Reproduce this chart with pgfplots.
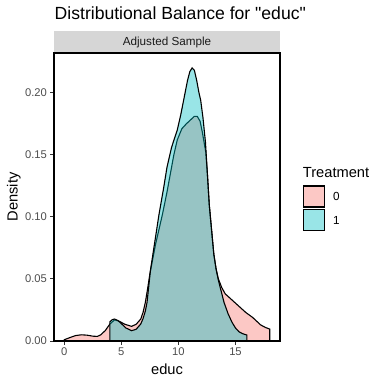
\documentclass[border=0pt]{standalone}
\usepackage{pgfplots}
\pgfplotsset{compat=1.18}
\usepackage{pgfplotstable}
\usepackage{fontspec}
\setmainfont{Liberation Sans}
\newfontfamily\rawfont{Liberation Sans}
\definecolor{pinkc}{HTML}{F8766D}
\definecolor{cyanc}{HTML}{00BFC4}
\definecolor{gthirty}{HTML}{4D4D4D}
\definecolor{gtwenty}{HTML}{333333}
\definecolor{gten}{HTML}{1A1A1A}
\definecolor{stripc}{HTML}{D6D6D6}

\pgfplotstableread{
x y
0.0 0.0
0.0 0.0010
0.5 0.0028
1.0 0.0044
1.5 0.0050
2.0 0.0047
2.5 0.0039
2.9 0.0037
3.2 0.0050
3.6 0.0085
4.0 0.0137
4.4 0.0170
4.8 0.0160
5.3 0.0135
5.9 0.0118
6.3 0.0135
6.7 0.0177
6.9 0.0230
7.1 0.0310
7.3 0.0420
7.5 0.0540
7.75 0.0660
8.0 0.0780
8.3 0.0900
8.6 0.1020
9.0 0.1200
9.3 0.1350
9.6 0.1500
9.9 0.1620
10.3 0.1710
10.7 0.1750
11.05 0.1780
11.4 0.1810
11.65 0.1810
11.9 0.1770
12.1 0.1680
12.4 0.1520
12.55 0.1330
12.7 0.1100
12.9 0.0900
13.1 0.0700
13.3 0.0580
13.5 0.0500
13.8 0.0430
14.1 0.0380
14.7 0.0330
15.3 0.0280
15.9 0.0230
16.5 0.0190
17.2 0.0130
17.6 0.0110
18.0 0.0096
18.0 0.0
}\ctrl

\pgfplotstableread{
x y
4.0 0.0
4.0 0.0155
4.2 0.0172
4.4 0.0177
4.7 0.0165
5.0 0.0140
5.4 0.0105
5.9 0.0083
6.3 0.0095
6.7 0.0137
6.9 0.0180
7.1 0.0240
7.25 0.0310
7.4 0.0440
7.55 0.0570
7.7 0.0660
8.0 0.0840
8.3 0.1020
8.7 0.1230
9.0 0.1400
9.4 0.1560
9.9 0.1700
10.2 0.1820
10.5 0.1960
10.8 0.2100
11.0 0.2170
11.2 0.2200
11.4 0.2180
11.6 0.2100
11.8 0.2000
11.95 0.1940
12.15 0.1800
12.37 0.1600
12.55 0.1330
12.7 0.1100
12.9 0.0900
13.1 0.0700
13.3 0.0580
13.5 0.0490
13.75 0.0400
14.0 0.0310
14.35 0.0220
14.7 0.0150
15.0 0.0105
15.3 0.0075
15.6 0.0060
16.0 0.0048
16.0 0.0
}\treat

\begin{document}
\begin{tikzpicture}
\path[use as bounding box] (0,0) rectangle (384bp,-384bp);
\fill[stripc] (54bp,-31bp) rectangle (280bp,-53bp);
\node[anchor=base, text=gten, font=\fontsize{11.7bp}{13bp}\selectfont, inner sep=0pt] at (167bp,-45.8bp) {Adjusted Sample};
\node[anchor=base west, font=\rawfont\fontsize{17.6bp}{20bp}\selectfont, inner sep=0pt] at (54.5bp,-19.3bp) {Distributional Balance for "educ"};
\begin{axis}[at={(54bp,-341bp)}, anchor=south west, scale only axis,
  width=226bp, height=288bp,
  xmin=-0.9, xmax=18.9, ymin=0, ymax=0.232,
  xtick={0,5,10,15}, ytick={0,0.05,0.1,0.15,0.2},
  xtick pos=bottom, ytick pos=left, tick align=outside,
  major tick length=3.6bp,
  tick style={gtwenty, line width=1bp},
  axis line style={black, line width=1.1bp},
  scaled y ticks=false,
  yticklabel style={/pgf/number format/fixed, /pgf/number format/fixed zerofill, /pgf/number format/precision=2},
  ticklabel style={font=\fontsize{11.2bp}{13bp}\selectfont, text=gthirty},
  /pgf/number format/assume math mode=true,
  axis on top]
\addplot[fill=pinkc, fill opacity=0.4, draw=black, line width=1.1bp] table[x=x,y=y] {\ctrl} \closedcycle;
\addplot[fill=cyanc, fill opacity=0.4, draw=black, line width=1.1bp] table[x=x,y=y] {\treat} \closedcycle;
\end{axis}
\node[anchor=base, font=\fontsize{14.67bp}{16bp}\selectfont, inner sep=0pt] at (167bp,-374bp) {educ};
\node[anchor=base, rotate=90, font=\fontsize{14.67bp}{16bp}\selectfont, inner sep=0pt] at (17.5bp,-197bp) {Density};
\node[anchor=base west, font=\fontsize{14.67bp}{16bp}\selectfont, inner sep=0pt] at (302.7bp,-177.5bp) {Treatment};
\fill[pinkc, opacity=0.4] (303.5bp,-186bp) rectangle (324.5bp,-207bp);
\draw[black, line width=1.3bp] (303.5bp,-186bp) rectangle (324.5bp,-207bp);
\fill[cyanc, opacity=0.4] (303.5bp,-209.5bp) rectangle (324.5bp,-230.5bp);
\draw[black, line width=1.3bp] (303.5bp,-209.5bp) rectangle (324.5bp,-230.5bp);
\node[anchor=west, font=\fontsize{11.7bp}{13bp}\selectfont, inner sep=0pt] at (333bp,-196.5bp) {0};
\node[anchor=west, font=\fontsize{11.7bp}{13bp}\selectfont, inner sep=0pt] at (333bp,-220bp) {1};
\end{tikzpicture}
\end{document}
